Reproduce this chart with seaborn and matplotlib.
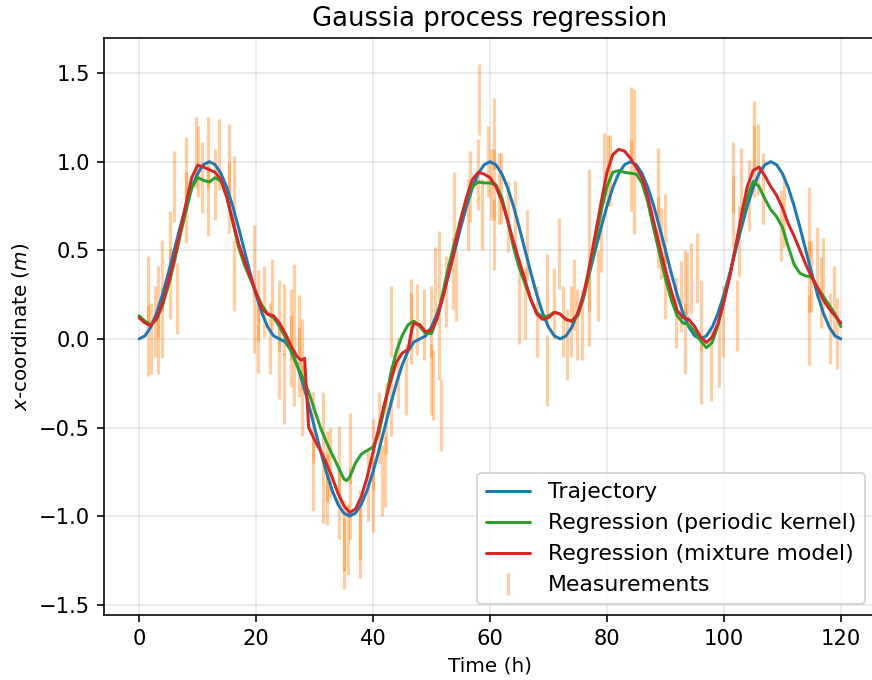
import matplotlib
matplotlib.use("Agg")
import matplotlib.pyplot as plt
import seaborn as sns
import pandas as pd
import numpy as np

# ---- data ----
traj_t = list(range(0, 121))
traj_y = [
    0.0, 0.017, 0.067, 0.146, 0.25, 0.371, 0.5, 0.629, 0.75, 0.854, 0.933, 0.983, 1.0,
    0.983, 0.933, 0.854, 0.75, 0.629, 0.5, 0.371, 0.25, 0.146, 0.067, 0.017, 0.0,
    -0.017, -0.067, -0.146, -0.25, -0.371, -0.5, -0.629, -0.75, -0.854, -0.933, -0.983, -1.0,
    -0.983, -0.933, -0.854, -0.75, -0.629, -0.5, -0.371, -0.25, -0.146, -0.067, -0.017, 0.0,
    0.017, 0.067, 0.146, 0.25, 0.371, 0.5, 0.629, 0.75, 0.854, 0.933, 0.983, 1.0,
    0.983, 0.933, 0.854, 0.75, 0.629, 0.5, 0.371, 0.25, 0.146, 0.067, 0.017, 0.0,
    0.017, 0.067, 0.146, 0.25, 0.371, 0.5, 0.629, 0.75, 0.854, 0.933, 0.983, 1.0,
    0.983, 0.933, 0.854, 0.75, 0.629, 0.5, 0.371, 0.25, 0.146, 0.067, 0.017, 0.0,
    0.017, 0.067, 0.146, 0.25, 0.371, 0.5, 0.629, 0.75, 0.854, 0.933, 0.983, 1.0,
    0.983, 0.933, 0.854, 0.75, 0.629, 0.5, 0.371, 0.25, 0.146, 0.067, 0.017, 0.0,
]

per_t = [0, 1, 2, 3, 4, 5, 6, 7, 8, 9, 10, 11, 12, 13, 14, 15, 16, 17, 18, 19,
         20, 21, 22, 23, 24, 25, 26, 27, 28, 29, 30, 31, 32, 33, 34, 35, 35.5, 36, 37, 38,
         39, 40, 41, 42, 43, 44, 45, 46, 47, 48, 49, 50, 51, 52, 53, 54, 55, 56, 57, 58,
         59, 60, 61, 62, 63, 64, 65, 66, 67, 68, 69, 70, 71, 72, 73, 74, 75, 76, 77, 78,
         79, 80, 81, 82, 83, 84, 85, 86, 87, 88, 89, 90, 91, 92, 93, 94, 95, 96, 97, 98,
         99, 100, 101, 102, 103, 104, 105, 106, 107, 108, 109, 110, 111, 112, 113, 114,
         115, 116, 117, 118, 119, 120]
per_y = [0.13, 0.10, 0.08, 0.11, 0.19, 0.30, 0.43, 0.58, 0.72, 0.85, 0.91, 0.895, 0.885, 0.91, 0.89, 0.80, 0.66, 0.52, 0.42, 0.34,
         0.26, 0.19, 0.14, 0.12, 0.07, 0.01, -0.07, -0.15, -0.22, -0.30, -0.40, -0.50, -0.58, -0.65, -0.72, -0.79, -0.80, -0.78, -0.70, -0.65,
         -0.63, -0.61, -0.53, -0.38, -0.20, -0.07, 0.02, 0.08, 0.10, 0.07, 0.03, 0.03, 0.12, 0.27, 0.42, 0.55, 0.68, 0.79, 0.86, 0.885,
         0.88, 0.88, 0.87, 0.80, 0.67, 0.52, 0.40, 0.31, 0.22, 0.15, 0.12, 0.13, 0.15, 0.14, 0.11, 0.10, 0.13, 0.23, 0.38, 0.55,
         0.72, 0.86, 0.94, 0.95, 0.94, 0.935, 0.93, 0.88, 0.77, 0.62, 0.48, 0.34, 0.22, 0.13, 0.09, 0.08, 0.04, -0.01, -0.05, -0.02,
         0.08, 0.22, 0.36, 0.52, 0.67, 0.80, 0.89, 0.86, 0.79, 0.73, 0.69, 0.63, 0.52, 0.42, 0.37, 0.355,
         0.35, 0.29, 0.24, 0.19, 0.14, 0.07]

mix_t = [0, 1, 2, 3, 4, 5, 6, 7, 8, 9, 10, 11, 12, 13, 14, 15, 16, 17, 18, 19,
         20, 21, 22, 23, 24, 25, 26, 27, 27.7, 28.3, 29, 30, 31, 32, 33, 34, 35, 36, 37, 38,
         39, 40, 41, 42, 43, 44, 45, 46, 46.6, 47, 48, 49, 50, 51, 52, 53, 54, 55, 56, 57,
         58, 59, 60, 61, 62, 63, 64, 65, 66, 67, 68, 69, 70, 71, 72, 73, 74, 75, 76, 77,
         78, 79, 80, 81, 82, 83, 84, 85, 86, 87, 88, 89, 90, 91, 92, 93, 94, 95, 96, 97,
         98, 99, 100, 101, 102, 103, 104, 105, 106, 107, 108, 109, 110, 111, 112, 113, 114,
         115, 116, 117, 118, 119, 120]
mix_y = [0.12, 0.09, 0.075, 0.12, 0.20, 0.32, 0.45, 0.60, 0.76, 0.91, 0.98, 0.97, 0.955, 0.94, 0.90, 0.80, 0.67, 0.54, 0.44, 0.35,
         0.26, 0.17, 0.14, 0.13, 0.09, 0.03, -0.04, -0.10, -0.12, -0.11, -0.50, -0.57, -0.63, -0.70, -0.78, -0.87, -0.94, -0.98, -0.96, -0.89,
         -0.78, -0.64, -0.50, -0.36, -0.24, -0.13, -0.08, -0.06, 0.05, 0.09, 0.08, 0.04, 0.05, 0.12, 0.24, 0.38, 0.52, 0.67, 0.80, 0.90,
         0.94, 0.93, 0.91, 0.86, 0.78, 0.67, 0.55, 0.44, 0.33, 0.22, 0.14, 0.11, 0.12, 0.15, 0.14, 0.11, 0.10, 0.14, 0.25, 0.41,
         0.59, 0.77, 0.94, 1.04, 1.07, 1.06, 1.02, 0.97, 0.91, 0.80, 0.66, 0.52, 0.39, 0.27, 0.16, 0.12, 0.11, 0.07, 0.01, -0.02,
         0.01, 0.09, 0.21, 0.35, 0.52, 0.70, 0.86, 0.95, 0.97, 0.92, 0.86, 0.81, 0.74, 0.65, 0.58, 0.50, 0.42,
         0.35, 0.29, 0.22, 0.17, 0.13, 0.09]

meas_t = [1.5, 1.5, 2.0, 2.7, 3.3, 3.3, 4.0, 4.0, 5.3, 5.3, 6.0, 6.5, 8.0, 8.0, 9.7, 10.0, 10.7, 11.7, 11.7, 12.9,
          13.6, 15.4, 15.4, 16.3, 16.3, 19.7, 19.7, 20.3, 20.3, 21.4, 22.3, 22.7, 24.0, 24.0, 24.8, 24.8, 26.0, 26.0, 26.5, 26.5,
          27.4, 27.4, 27.8, 27.8, 29.7, 29.7, 31.4, 31.4, 32.2, 32.2, 32.7, 34.2, 34.2, 35.1, 35.1, 35.7, 36.0, 36.0, 37.7, 37.7,
          39.1, 40.0, 40.0, 41.1, 41.6, 42.0, 42.2, 43.1, 43.1, 44.2, 45.6, 46.5, 46.5, 47.6, 48.8, 49.9, 49.9, 50.2, 50.6, 51.3,
          51.3, 51.6, 52.5, 53.6, 53.9, 54.2, 56.2, 56.6, 57.9, 58.2, 58.7, 59.6, 60.2, 60.7, 60.7, 60.7, 61.6, 61.9, 63.0, 64.2,
          65.0, 65.9, 66.3, 68.1, 69.7, 69.7, 71.0, 71.8, 72.4, 73.2, 73.8, 74.4, 74.9, 75.7, 77.0, 77.0, 77.0, 78.4, 79.0, 79.5,
          80.1, 80.6, 84.1, 84.1, 84.7, 84.7, 88.7, 88.7, 89.2, 89.9, 89.9, 91.8, 92.6, 93.3, 93.3, 93.7, 94.4, 95.4, 96.0, 96.0,
          97.8, 99.2, 99.9, 101.5, 101.6, 102.2, 102.6, 103.0, 104.3, 105.2, 105.2, 105.8, 106.7, 109.7, 110.3, 114.6, 114.6, 114.6, 114.9, 115.9,
          116.6, 116.9, 118.1, 118.8, 119.4]
meas_y = [0.27, -0.01, 0.0, 0.10, 0.21, 0.0, 0.36, 0.09, 0.52, 0.31, 0.86, 0.23, 0.94, 0.74, 1.05, 1.0, 0.91, 1.05, 0.78, 0.87,
          1.04, 1.01, 0.80, 0.83, 0.36, 0.44, 0.12, 0.19, 0.01, 0.21, 0.0, 0.25, 0.13, -0.14, 0.11, -0.28, 0.08, -0.07, 0.22, -0.18,
          0.05, -0.13, -0.09, -0.35, -0.50, -0.77, -0.50, -0.84, -0.72, -0.85, -0.70, -0.69, -0.93, -1.11, -1.21, -1.13, -0.62, -0.93, -1.05, -1.15,
          -0.83, -0.65, -0.89, -0.50, -0.80, -0.75, -0.45, 0.10, -0.35, -0.19, -0.23, 0.14, 0.06, 0.11, 0.08, 0.10, -0.23, -0.26, 0.32, 0.41,
          -0.03, -0.43, 0.27, 0.37, 0.74, 0.30, 0.70, 0.86, 0.93, 1.35, 0.70, 1.0, 0.87, 1.16, 0.87, 0.59, 0.85, 0.85, 0.69, 0.69,
          0.17, 0.20, 0.53, 0.10, -0.18, 0.28, 0.20, 0.48, 0.10, -0.03, 0.10, 0.25, 0.08, 0.08, 0.76, 0.36, 0.16, 0.30, 0.58, 0.96,
          0.95, 0.95, 1.22, 0.92, 1.21, 0.79, 0.88, 0.60, 0.54, 0.62, 0.31, 0.15, 0.24, 0.30, 0.0, 0.29, 0.34, 0.40, 0.13, -0.17,
          -0.15, -0.07, 0.10, 0.91, 0.72, 0.13, 0.55, 0.88, 0.81, 1.14, 1.00, 1.01, 0.85, 0.64, 0.72, 0.66, 0.35, 0.05, 0.35, 0.43,
          0.26, 0.37, 0.06, 0.21, 0.03]
meas_err = 0.2

# ---- plot ----
sns.set_style("white")
plt.rcParams["font.family"] = ["DejaVu Sans"]
plt.rcParams["font.size"] = 10
plt.rcParams["text.color"] = "black"
plt.rcParams["axes.labelcolor"] = "black"
plt.rcParams["xtick.color"] = "black"
plt.rcParams["ytick.color"] = "black"

fig = plt.figure(figsize=(872 / 144, 680 / 144), dpi=144)
ax = fig.add_axes([104 / 872, 1 - 615 / 680, 772 / 872, (615 - 38) / 680])

ax.grid(True, color="#b0b0b0", alpha=0.3, linewidth=0.8)
ax.set_axisbelow(True)

meas = ax.errorbar(meas_t, meas_y, yerr=meas_err, fmt="none", ecolor="C1",
                   elinewidth=1.6, alpha=0.38, zorder=1.5)

df_traj = pd.DataFrame({"t": traj_t, "y": traj_y})
df_per = pd.DataFrame({"t": per_t, "y": per_y})
df_mix = pd.DataFrame({"t": mix_t, "y": mix_y})

sns.lineplot(data=df_traj, x="t", y="y", ax=ax, color="C0", linewidth=1.5, label="Trajectory")
sns.lineplot(data=df_per, x="t", y="y", ax=ax, color="C2", linewidth=1.5, label="Regression (periodic kernel)")
sns.lineplot(data=df_mix, x="t", y="y", ax=ax, color="C3", linewidth=1.5, label="Regression (mixture model)")

ax.margins(x=0.05, y=0.05)
ax.set_xticks([0, 20, 40, 60, 80, 100, 120])
ax.set_yticks([-1.5, -1.0, -0.5, 0.0, 0.5, 1.0, 1.5])
ax.tick_params(axis="both", direction="out", length=3.5, width=0.8, colors="black",
               bottom=True, left=True, labelsize=10.5)
for s in ax.spines.values():
    s.set_color("black")
    s.set_linewidth(0.8)

ax.set_xlabel("Time (h)", fontsize=10, color="black")
ax.set_ylabel("$x$-coordinate ($m$)", fontsize=10, color="black")
ax.set_title("Gaussia process regression", fontsize=13, color="black")

handles, labels = ax.get_legend_handles_labels()
lines = [h for h, l in zip(handles, labels) if l != "Measurements"]
leg = ax.legend(lines + [meas], ["Trajectory", "Regression (periodic kernel)",
                                 "Regression (mixture model)", "Measurements"],
                loc="lower right", fontsize=11, frameon=True, framealpha=0.8,
                edgecolor="#cccccc", fancybox=True)
for txt in leg.get_texts():
    txt.set_color("black")

fig.savefig("out.png", dpi=144)
